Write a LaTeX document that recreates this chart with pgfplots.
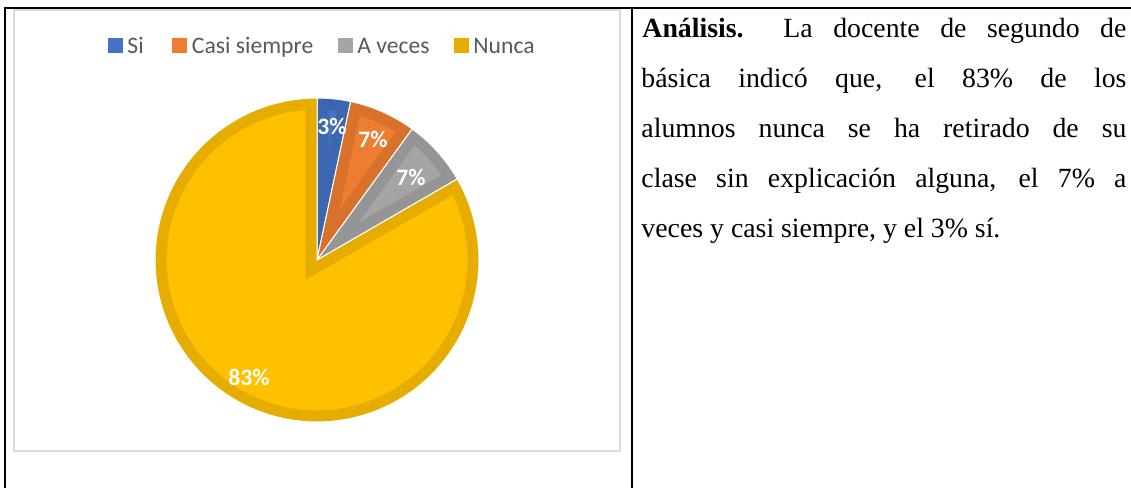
\documentclass[border=0pt]{standalone}
\usepackage{fontspec}
\setmainfont{Liberation Serif}
\newfontfamily\calibri{Carlito}
\usepackage{pgfplots}
\usepackage{pgfplotstable}
\pgfplotsset{compat=1.18}
\newlength\upx \setlength\upx{0.4317pt}
\definecolor{siD}{HTML}{3D66B0}
\definecolor{siL}{HTML}{4472C4}
\definecolor{caD}{HTML}{D8712B}
\definecolor{caL}{HTML}{ED7D31}
\definecolor{avD}{HTML}{959595}
\definecolor{avL}{HTML}{A5A5A5}
\definecolor{nuD}{HTML}{E6AD00}
\definecolor{nuL}{HTML}{FFC000}
\definecolor{legtext}{HTML}{595959}
\definecolor{framegray}{HTML}{DCDCDC}
% percentages of each answer (1, 2, 2 and 25 of 30 pupils)
\pgfplotstableread{
label value
Si 3.333
Casi 6.667
Aveces 6.667
Nunca 83.333
}\piedata
\pgfplotstablegetelem{0}{value}\of\piedata \let\vA\pgfplotsretval
\pgfplotstablegetelem{1}{value}\of\piedata \let\vB\pgfplotsretval
\pgfplotstablegetelem{2}{value}\of\piedata \let\vC\pgfplotsretval
\pgfplotstablegetelem{3}{value}\of\piedata \let\vD\pgfplotsretval
\pgfmathsetmacro\aA{90}
\pgfmathsetmacro\aB{\aA-3.6*\vA}
\pgfmathsetmacro\aC{\aB-3.6*\vB}
\pgfmathsetmacro\aD{\aC-3.6*\vC}
\pgfmathsetmacro\aE{\aD-3.6*\vD}
\def\bw{0.072}
\newcommand\pieslice[4]{%
  \pgfmathsetmacro\pS{#1}\pgfmathsetmacro\pE{#2}%
  \pgfmathsetmacro\pM{(\pS+\pE)/2}%
  \pgfmathsetmacro\pH{(\pS-\pE)/2}%
  \pgfmathsetmacro\pV{\bw/sin(\pH)}%
  \pgfmathsetmacro\pVx{\pV*cos(\pM)}\pgfmathsetmacro\pVy{\pV*sin(\pM)}%
  \pgfmathsetmacro\pR{1-\bw}%
  \pgfmathsetmacro\pD{asin(\bw/\pR)}%
  \pgfmathsetmacro\pA{\pE+\pD}\pgfmathsetmacro\pB{\pS-\pD}%
  \edef\tmp{%
   \noexpand\addplot[fill=#3, draw=white, line width=1\upx, domain=\pE:\pS, samples=120] ({cos(x)},{sin(x)}) -- (axis cs:0,0) -- cycle;
   \noexpand\addplot[fill=#4, draw=none, domain=\pA:\pB, samples=120] ({\pR*cos(x)},{\pR*sin(x)}) -- (axis cs:\pVx,\pVy) -- cycle;
  }\tmp}
\begin{document}
\begin{tikzpicture}
\begin{scope}[x=0.4317pt, y=-0.4317pt]
\path[use as bounding box] (0,0) rectangle (1131,488);
% table rules
\draw[line width=2.2\upx] (4,7.8) -- (1131,7.8);
\draw[line width=2\upx] (5,7) -- (5,488);
\draw[line width=2\upx] (631.7,7) -- (631.7,488);
% chart frame
\draw[draw=framegray, line width=2\upx] (13.7,10) rectangle (620.3,451);
% legend
\fill[siL] (108,38) rectangle (123,53);
\node[anchor=base west, inner sep=0, text=legtext, font=\calibri\fontsize{10.2}{12}\selectfont] at (127,53.3) {Si};
\fill[caL] (172,38) rectangle (187,53);
\node[anchor=base west, inner sep=0, text=legtext, font=\calibri\fontsize{10.2}{12}\selectfont] at (191.5,53.3) {Casi siempre};
\fill[avL] (338,38) rectangle (353,53);
\node[anchor=base west, inner sep=0, text=legtext, font=\calibri\fontsize{10.2}{12}\selectfont] at (357,53.3) {A veces};
\fill[nuD] (454,38) rectangle (469,53);
\node[anchor=base west, inner sep=0, text=legtext, font=\calibri\fontsize{10.2}{12}\selectfont] at (473,53.3) {Nunca};
% analysis text
\begin{scope}[every node/.style={anchor=base west, inner sep=0, font=\fontsize{12}{14}\selectfont}]
\node at (642,38) {\textbf{Análisis.}};
\node at (783,38) {\makebox[343\upx][s]{La docente de segundo de}};
\node at (641,88) {\makebox[485\upx][s]{básica indicó que, el 83\% de los}};
\node at (641,138) {\makebox[485\upx][s]{alumnos nunca se ha retirado de su}};
\node at (641,188) {\makebox[485\upx][s]{clase sin explicación alguna, el 7\% a}};
\node at (641,238) {veces y casi siempre, y el 3\% sí.};
\end{scope}
\end{scope}
% pie
\begin{axis}[hide axis, scale only axis, width=324\upx, height=324\upx,
  xmin=-1, xmax=1, ymin=-1, ymax=1, clip=false,
  at={(317\upx,-260\upx)}, anchor=center]
\pieslice{\aA}{\aB}{siD}{siL}
\pieslice{\aB}{\aC}{caD}{caL}
\pieslice{\aC}{\aD}{avD}{avL}
\pieslice{\aD}{\aE}{nuD}{nuL}
\node[text=white, font=\calibri\bfseries\fontsize{10.2}{12}\selectfont, inner sep=0] at (axis cs:0.093,0.827) {3\%};
\node[text=white, font=\calibri\bfseries\fontsize{10.2}{12}\selectfont, inner sep=0] at (axis cs:0.346,0.741) {7\%};
\node[text=white, font=\calibri\bfseries\fontsize{10.2}{12}\selectfont, inner sep=0] at (axis cs:0.580,0.512) {7\%};
\node[text=white, font=\calibri\bfseries\fontsize{10.2}{12}\selectfont, inner sep=0] at (axis cs:-0.420,-0.728) {83\%};
\end{axis}
\end{tikzpicture}
\end{document}
